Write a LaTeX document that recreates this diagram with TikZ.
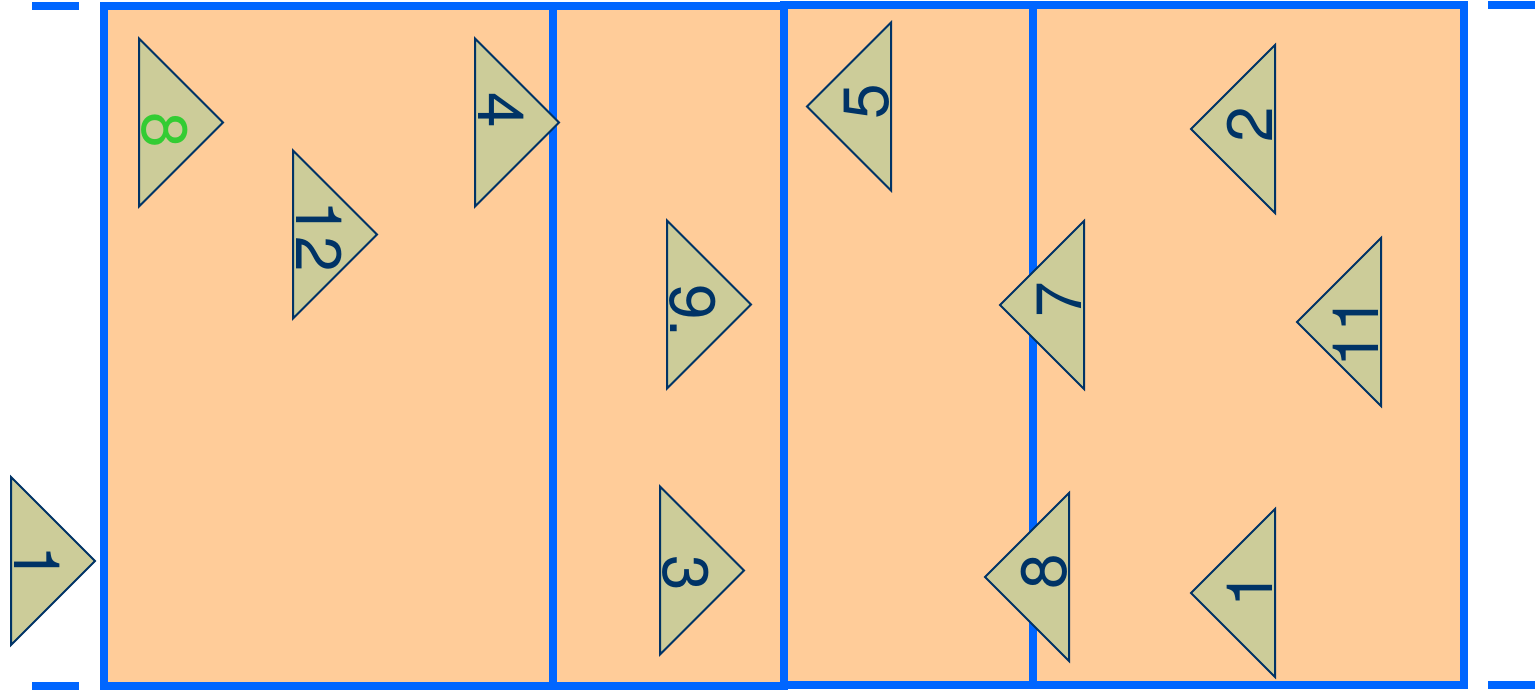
\documentclass[tikz,border=0pt]{standalone}
\usepackage{fontspec}
\setmainfont{TeX Gyre Heros}
\definecolor{courtFill}{HTML}{FFCC99}
\definecolor{courtLine}{HTML}{0066FF}
\definecolor{playerFill}{HTML}{CCCC99}
\definecolor{playerInk}{HTML}{003366}
\definecolor{liberoInk}{HTML}{33CC33}

\begin{document}
\begin{tikzpicture}[x=0.5pt,y=-0.5pt,
  court/.style={draw=courtLine,fill=courtFill,line width=3.75pt},
  tick/.style={draw=courtLine,line width=3.75pt},
  player/.style={draw=playerInk,fill=playerFill,line width=1pt},
  num/.style={font=\fontsize{32}{38}\selectfont,inner sep=0pt,anchor=base}]
\useasboundingbox (0,0) rectangle (1535,690);

% court zones
\draw[court] (104,6) rectangle (553,686);
\draw[court] (553,6) rectangle (784,686);
\draw[court] (784,5) rectangle (1033,685);
\draw[court] (1033,5) rectangle (1464,685);

% end marks
\draw[tick] (32,6) -- (79,6);
\draw[tick] (32,686) -- (79,686);
\draw[tick] (1488,5) -- (1535,5);
\draw[tick] (1488,685) -- (1535,685);

% players: base x / centre y / direction / label y / label / colour
\foreach \bx/\cy/\dir/\ty/\lbl/\ink [count=\i] in {
  139/122.5/1/130/8/liberoInk,
  293/234.5/1/236/12/playerInk,
  475/122.5/1/110/4/playerInk,
  667/304.5/1/311/9./playerInk,
  660/570.5/1/573/3/playerInk,
  11/561/1/563/1/playerInk,
  891/106.5/-1/102/5/playerInk,
  1084/305/-1/300/7/playerInk,
  1069/577/-1/572/8/playerInk,
  1275/129/-1/125/2/playerInk,
  1381/322/-1/332/11/playerInk,
  1275/593/-1/590/1/playerInk}
{
  \draw[player] (\bx,\cy-84) -- ({\bx+84*\dir},\cy) -- (\bx,\cy+84) -- cycle;
  \node[num,text=\ink,rotate=-90*\dir] (p\i) at ({\bx+3*\dir},\ty) {\lbl};
}
\end{tikzpicture}
\end{document}
